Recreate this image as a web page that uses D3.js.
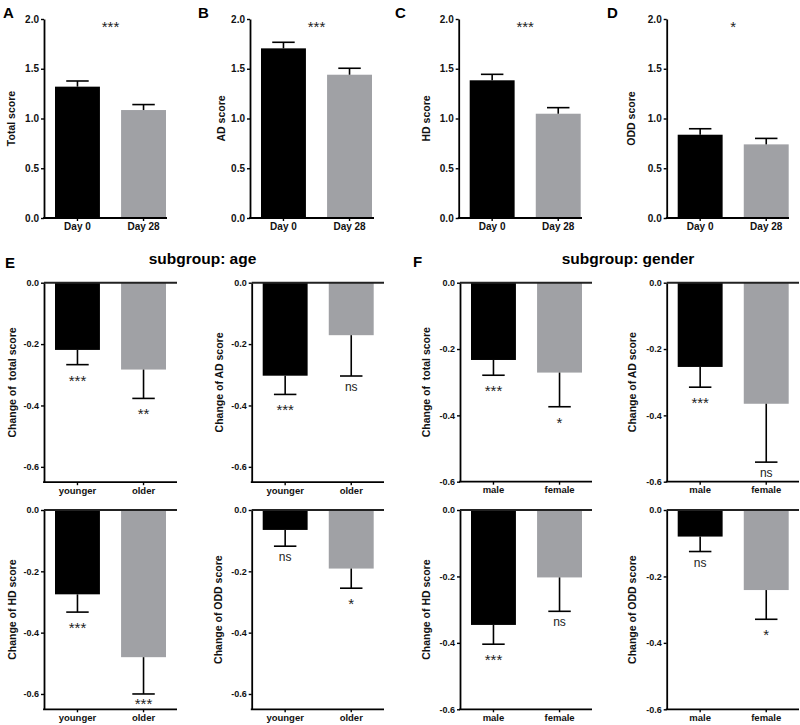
<!DOCTYPE html>
<html><head><meta charset="utf-8">
<script src="https://cdn.jsdelivr.net/npm/d3@7"></script>
<style>
body{margin:0;background:#fff}
text{font-family:"Liberation Sans",Arial,Helvetica,sans-serif}
</style></head>
<body>
<svg id="chart" width="800" height="725"></svg>
<script>
// ---------- data ----------
const dayCats = ["Day 0", "Day 28"];
const ageCats = ["younger", "older"];
const genderCats = ["male", "female"];

const topTicks = [0, 0.5, 1.0, 1.5, 2.0];
const changeTicks = [0, -0.2, -0.4, -0.6];

const totalMean = [1.32, 1.085];  const totalSem = [0.057, 0.055];
const adMean    = [1.705, 1.44];  const adSem    = [0.061, 0.065];
const hdMean    = [1.384, 1.048]; const hdSem    = [0.060, 0.061];
const oddMean   = [0.837, 0.74];  const oddSem   = [0.060, 0.060];
const topSig = ["***", "***", "***", "*"];

const ageTotalMean = [-0.219, -0.283]; const ageTotalSem = [0.048, 0.094]; const ageTotalSig = ["***", "**"];
const ageAdMean    = [-0.303, -0.171]; const ageAdSem    = [0.061, 0.133]; const ageAdSig    = ["***", "ns"];
const ageHdMean    = [-0.275, -0.480]; const ageHdSem    = [0.058, 0.120]; const ageHdSig    = ["***", "***"];
const ageOddMean   = [-0.065, -0.191]; const ageOddSem   = [0.053, 0.064]; const ageOddSig   = ["ns", "*"];

const genTotalMean = [-0.233, -0.271]; const genTotalSem = [0.046, 0.103]; const genTotalSig = ["***", "*"];
const genAdMean    = [-0.254, -0.365]; const genAdSem    = [0.061, 0.176]; const genAdSig    = ["***", "ns"];
const genHdMean    = [-0.346, -0.203]; const genHdSem    = [0.058, 0.102]; const genHdSig    = ["***", "ns"];
const genOddMean   = [-0.080, -0.241]; const genOddSem   = [0.045, 0.088]; const genOddSig   = ["ns", "*"];

// ---------- drawing ----------
const svg = d3.select("#chart");
const COLORS = ["#000000", "#a0a1a5"];
const fmt = d => (Math.abs(d) < 1e-9 ? "0.0" : d.toFixed(1));

function panel(c) {
  const g = svg.append("g");
  const y = d3.scaleLinear().domain(c.domain).range([c.yBottom, c.yTop]);
  const x = d3.scaleBand().domain(c.cats)
    .range([c.axisX + 11, c.axisX + 122]).paddingInner(0.32).paddingOuter(0);
  const bw = x.bandwidth();
  const data = c.cats.map((k, i) => ({k, i, v: c.mean[i], e: c.sem[i], s: c.sig ? c.sig[i] : null}));

  // bars
  g.selectAll("rect.bar").data(data).enter().append("rect")
    .attr("x", d => x(d.k)).attr("width", bw)
    .attr("y", d => Math.min(y(0), y(d.v)))
    .attr("height", d => Math.abs(y(d.v) - y(0)))
    .attr("fill", d => COLORS[d.i]);

  // error bars (one-sided, away from zero)
  const errEnd = d => y(d.v + Math.sign(d.v) * d.e);
  g.selectAll("line.err").data(data).enter().append("line")
    .attr("x1", d => x(d.k) + bw / 2).attr("x2", d => x(d.k) + bw / 2)
    .attr("y1", d => y(d.v)).attr("y2", errEnd)
    .attr("stroke", "#000").attr("stroke-width", 1.6);
  g.selectAll("line.cap").data(data).enter().append("line")
    .attr("x1", d => x(d.k) + bw / 4).attr("x2", d => x(d.k) + 3 * bw / 4)
    .attr("y1", errEnd).attr("y2", errEnd)
    .attr("stroke", "#000").attr("stroke-width", 1.6);

  // y axis
  const ya = g.append("g").attr("transform", `translate(${c.axisX},0)`)
    .call(d3.axisLeft(y).tickValues(c.ticks).tickFormat(fmt).tickSize(3).tickSizeOuter(0).tickPadding(2));
  ya.select(".domain").attr("stroke-width", 1.8);
  ya.selectAll(".tick line").attr("stroke-width", 1.4);
  ya.selectAll(".tick text").attr("font-size", c.tickFont).attr("font-weight", "bold")
    .attr("fill", "#111").style("font-family", '"Liberation Sans",Arial,sans-serif');

  // x axis
  const xa = g.append("g").attr("transform", `translate(0,${c.yBottom})`)
    .call(d3.axisBottom(x).tickSize(3).tickSizeOuter(0).tickPadding(c.xPad));
  xa.select(".domain").remove();
  xa.selectAll(".tick line").attr("stroke-width", 1.4);
  xa.selectAll(".tick text").attr("font-size", c.xFont).attr("font-weight", "bold")
    .attr("fill", "#111").style("font-family", '"Liberation Sans",Arial,sans-serif');
  g.append("line").attr("x1", c.axisX - 0.9).attr("x2", c.axisEnd)
    .attr("y1", c.yBottom).attr("y2", c.yBottom)
    .attr("stroke", "#000").attr("stroke-width", 1.8);

  // zero line (change panels)
  if (c.domain[0] < 0) {
    g.append("line").attr("x1", c.axisX).attr("x2", c.axisEnd)
      .attr("y1", y(0)).attr("y2", y(0))
      .attr("stroke", "#222").attr("stroke-width", 2);
  }

  // y label
  const ly = (c.yTop + c.yBottom) / 2;
  g.append("text").attr("transform", `translate(${c.labelX + 3.6},${ly}) rotate(-90)`)
    .attr("text-anchor", "middle").attr("font-size", 10.5).attr("font-weight", "bold")
    .style("white-space", "pre").attr("fill", "#111").text(c.label);

  // significance
  if (c.midSig) {
    g.append("text").attr("x", (x(c.cats[0]) + x(c.cats[1]) + bw) / 2).attr("y", 32)
      .attr("text-anchor", "middle").attr("font-size", 15).attr("fill", "#222").text(c.midSig);
  }
  if (c.sig) {
    g.selectAll("text.sig").data(data).enter().append("text")
      .attr("x", d => x(d.k) + bw / 2)
      .attr("y", d => d.s === "ns"
        ? Math.min(errEnd(d) + 15, c.yBottom - 3)
        : Math.min(errEnd(d) + 21, c.yBottom - 0.5))
      .attr("text-anchor", "middle")
      .attr("font-size", d => d.s === "ns" ? 12 : 15)
      .attr("fill", "#222").text(d => d.s);
  }
}

// top row
const topBase = {cats: dayCats, domain: [0, 2], ticks: topTicks, yTop: 19, yBottom: 218, tickFont: 10, xFont: 10, xPad: 2};
panel({...topBase, mean: totalMean, sem: totalSem, axisX: 44,    axisEnd: 167, label: "Total score", labelX: 11.5, midSig: topSig[0]});
panel({...topBase, mean: adMean,    sem: adSem,    axisX: 250,   axisEnd: 374, label: "AD score",    labelX: 221,  midSig: topSig[1]});
panel({...topBase, mean: hdMean,    sem: hdSem,    axisX: 458.7, axisEnd: 582, label: "HD score",    labelX: 426,  midSig: topSig[2]});
panel({...topBase, mean: oddMean,   sem: oddSem,   axisX: 666.7, axisEnd: 789, label: "ODD score",   labelX: 631,  midSig: topSig[3]});

// age subgroup (E)
const eBase = {cats: ageCats, domain: [-0.65, 0], ticks: changeTicks, tickFont: 9, xFont: 9.5, xPad: 2};
panel({...eBase, mean: ageTotalMean, sem: ageTotalSem, sig: ageTotalSig, axisX: 44,    axisEnd: 177, yTop: 282.7, yBottom: 482.2, label: "Change of  total score", labelX: 12});
panel({...eBase, mean: ageAdMean,    sem: ageAdSem,    sig: ageAdSig,    axisX: 251.7, axisEnd: 384, yTop: 282.7, yBottom: 482.2, label: "Change of AD score",     labelX: 219});
panel({...eBase, mean: ageHdMean,    sem: ageHdSem,    sig: ageHdSig,    axisX: 44,    axisEnd: 177, yTop: 510,   yBottom: 709.3, label: "Change of HD score",     labelX: 12});
panel({...eBase, mean: ageOddMean,   sem: ageOddSem,   sig: ageOddSig,   axisX: 251.7, axisEnd: 384, yTop: 510,   yBottom: 709.3, label: "Change of ODD score",    labelX: 218.5});

// gender subgroup (F)
const fBase = {cats: genderCats, domain: [-0.6, 0], ticks: changeTicks, tickFont: 9, xFont: 9.5, xPad: 2};
panel({...fBase, mean: genTotalMean, sem: genTotalSem, sig: genTotalSig, axisX: 460,   axisEnd: 592, yTop: 282.7, yBottom: 481.7, label: "Change of  total score", labelX: 426});
panel({...fBase, mean: genAdMean,    sem: genAdSem,    sig: genAdSig,    axisX: 666.7, axisEnd: 799, yTop: 282.7, yBottom: 481.7, label: "Change of AD score",     labelX: 632.5});
panel({...fBase, mean: genHdMean,    sem: genHdSem,    sig: genHdSig,    axisX: 460,   axisEnd: 592, yTop: 510,   yBottom: 709.3, label: "Change of HD score",     labelX: 426});
panel({...fBase, mean: genOddMean,   sem: genOddSem,   sig: genOddSig,   axisX: 666.7, axisEnd: 799, yTop: 510,   yBottom: 709.3, label: "Change of ODD score",    labelX: 632});

// panel letters and titles
const letters = [["A", 3, 18], ["B", 198, 18], ["C", 395, 18], ["D", 607, 18], ["E", 5, 268], ["F", 413, 267]];
svg.selectAll("text.letter").data(letters).enter().append("text")
  .attr("x", d => d[1]).attr("y", d => d[2]).attr("font-size", 15).attr("font-weight", "bold")
  .attr("fill", "#000").text(d => d[0]);
svg.append("text").attr("x", 202.5).attr("y", 264).attr("text-anchor", "middle")
  .attr("font-size", 15.5).attr("font-weight", "bold").text("subgroup: age");
svg.append("text").attr("x", 628).attr("y", 264).attr("text-anchor", "middle")
  .attr("font-size", 15.5).attr("font-weight", "bold").text("subgroup: gender");
</script>
</body></html>
